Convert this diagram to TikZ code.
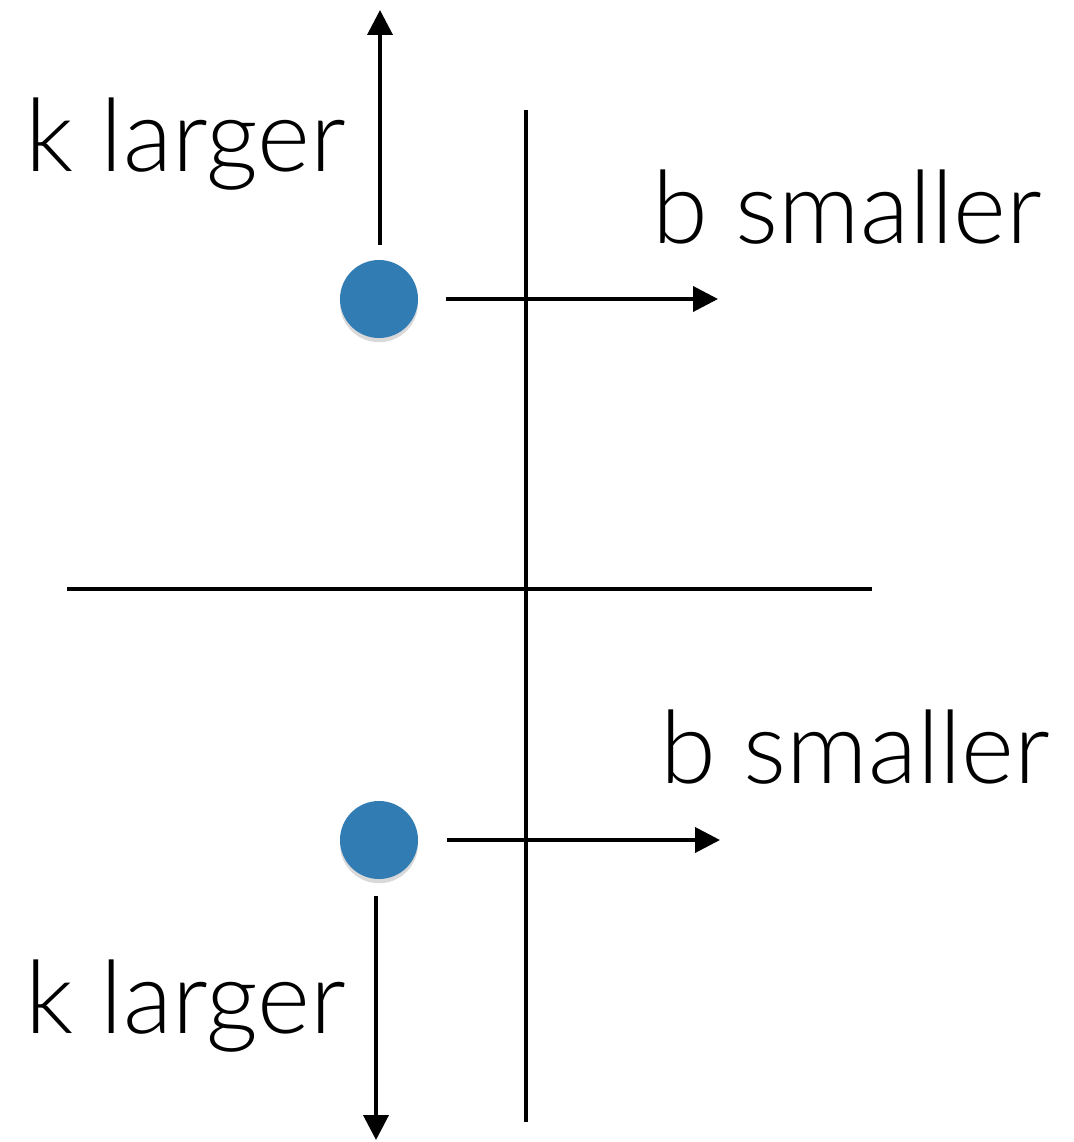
\documentclass[tikz,border=0pt]{standalone}
\usepackage{fontspec}
\setmainfont{Lato}[UprightFont={* Light}]
\usepackage{tikz}
\usetikzlibrary{arrows.meta,shadows}
\definecolor{dotblue}{RGB}{50,124,180}

\begin{document}
\begin{tikzpicture}[x=0.025cm, y=-0.025cm,
    axisline/.style={line width=2.7pt},
    move/.style={line width=2.7pt, -{Triangle[length=0.62cm, width=0.62cm]}},
    dot/.style={circle, fill=dotblue, minimum size=1.95cm, inner sep=0pt,
                drop shadow={opacity=0.3, shadow xshift=0pt, shadow yshift=-3pt}},
    lbl/.style={anchor=base west, inner sep=0pt, font=\fontsize{72}{80}\selectfont},
]
    % Canvas
    \useasboundingbox (0,0) rectangle (1073,1142);

    % Axes
    \coordinate (vtop) at (526,110);
    \coordinate (vbot) at (526,1122);
    \coordinate (hleft) at (67,589);
    \coordinate (hright) at (872,589);
    \draw[axisline] (vtop) -- (vbot);
    \draw[axisline] (hleft) -- (hright);

    % Points
    \node[dot] (dotA) at (379,299) {};
    \node[dot] (dotB) at (379,840) {};

    % Arrow tips
    \coordinate (upTip) at (380,10);
    \coordinate (rightTipA) at (718,299);
    \coordinate (rightTipB) at (720,840);
    \coordinate (downTip) at (376,1140);

    % Arrows
    \draw[move, shorten <=0.375cm] (dotA.north -| upTip) -- (upTip);
    \draw[move, shorten <=0.68cm] (dotA.east) -- (rightTipA);
    \draw[move, shorten <=0.72cm] (dotB.east) -- (rightTipB);
    \draw[move, shorten <=0.42cm] (dotB.south -| downTip) -- (downTip);

    % Labels
    \node[lbl] (kA) at (25,172) {k larger};
    \node[lbl] (bA) at (652,243) {b smaller};
    \node[lbl] (bB) at (660,783) {b smaller};
    \node[lbl] (kB) at (25,1033) {k larger};
\end{tikzpicture}
\end{document}
